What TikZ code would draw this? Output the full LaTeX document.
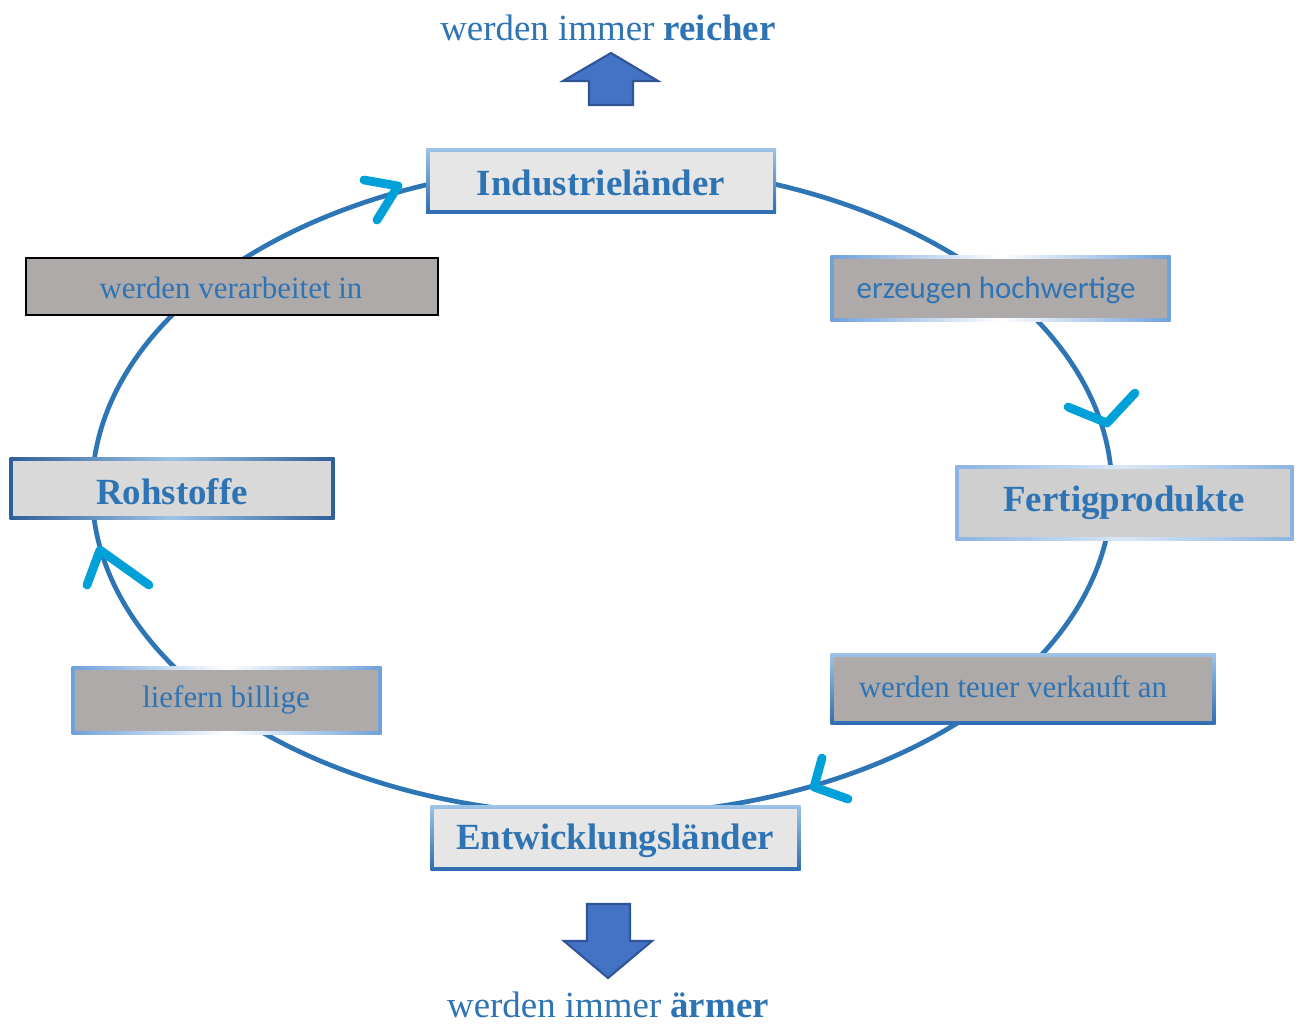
\documentclass[tikz,border=0pt]{standalone}
\usepackage{fontspec}
\setmainfont{Liberation Serif}
\newfontfamily\calfont{Carlito}
\definecolor{txtblue}{HTML}{2E74B5}
\definecolor{ringblue}{HTML}{2E75B6}
\definecolor{hookblue}{HTML}{00A1D9}
\definecolor{lightfr}{HTML}{9DC3E6}
\definecolor{midfr}{HTML}{6FA0DA}
\definecolor{darkfr}{HTML}{2E6DB0}
\definecolor{deepfr}{HTML}{2F5F9A}
\definecolor{boxlight}{HTML}{E7E6E6}
\definecolor{boxgrey}{HTML}{D9D9D9}
\definecolor{boxfert}{HTML}{CFCFCF}
\definecolor{labgrey}{HTML}{AEAAAA}
\definecolor{arrfill}{HTML}{4472C4}
\definecolor{arrdraw}{HTML}{2F5597}
% name, x, y, w, h, frame style, fill, border px
\newcommand{\mybox}[8]{%
  \node[minimum width={#4*0.02cm}, minimum height={#5*0.02cm}, inner sep=0pt, outer sep=0pt, #6] (#1) at (#2,#3) {};
  \node[fill=#7, minimum width={(#4-2*#8)*0.02cm}, minimum height={(#5-2*#8)*0.02cm}, inner sep=0pt, outer sep=0pt] (#1-in) at (#1) {};
}
\begin{document}
\begin{tikzpicture}[x=0.02cm,y=-0.02cm,
  ring/.style={draw=ringblue, line width=2.7pt},
  frvert/.style={top color=lightfr, bottom color=darkfr},
  frhoriz/.style={shading=axis, left color=midfr, right color=midfr, middle color=white, shading angle=90},
  frdeep/.style={shading=axis, left color=deepfr, right color=deepfr, middle color=lightfr, shading angle=90},
  frlight/.style={shading=axis, left color=midfr!80!white, right color=midfr!80!white, middle color=lightfr!40!white, shading angle=90},
  frblack/.style={fill=black},
  title/.style={text=txtblue, font=\fontsize{21}{25}\selectfont\bfseries, inner sep=0pt},
  label/.style={text=txtblue, font=\fontsize{17.6}{21}\selectfont, inner sep=0pt},
  hook/.style={draw=hookblue, line width=5pt, line cap=round, line join=round},
  block/.style={fill=arrfill, draw=arrdraw, line width=1.2pt, line join=miter}
]
\useasboundingbox (0,0) rectangle (1301,1025);

% cycle ring
\draw[ring] (602,490) ellipse [x radius=10.2cm, y radius=6.5cm];

% main boxes
\mybox{ind}{601}{181}{350}{65}{frvert}{boxlight}{3.5}
\mybox{roh}{172}{488.5}{325}{62}{frdeep}{boxgrey}{3.5}
\mybox{fert}{1124.5}{503}{338}{75}{frlight}{boxfert}{3.5}
\mybox{entw}{615.5}{838}{370}{65}{frvert}{boxlight}{3.5}

% label boxes
\mybox{verarb}{231.5}{286}{414}{59}{frblack}{labgrey}{2}
\mybox{erz}{1000.5}{288.5}{340}{66}{frhoriz}{labgrey}{3.5}
\mybox{teuer}{1023}{689}{385}{71}{frvert}{labgrey}{3.5}
\mybox{lief}{226.5}{700.5}{310}{68}{frhoriz}{labgrey}{3.5}

% texts
\node[title] (t-ind) at (601,183) {Industrieländer};
\node[title] (t-roh) at (172,492) {Rohstoffe};
\node[title] (t-fert) at (1124,503) {Fertigprodukte};
\node[title] (t-entw) at (615,841) {Entwicklungsländer};
\node[label] (t-verarb) at (231,288) {werden verarbeitet in};
\node[label, font=\calfont\fontsize{17.6}{21}\selectfont] (t-erz) at (996,290) {erzeugen hochwertige};
\node[label] (t-teuer) at (1013,687) {werden teuer verkauft an};
\node[label] (t-lief) at (226,700) {liefern billige};

\node[text=txtblue, font=\fontsize{21}{25}\selectfont, inner sep=0pt] (t-reich) at (608,28) {werden immer \textbf{reicher}};
\node[text=txtblue, font=\fontsize{21}{25}\selectfont, inner sep=0pt] (t-arm) at (608,1005) {werden immer \textbf{ärmer}};

% block arrows
\draw[block] (611,53) -- (563,81) -- (589,81) -- (589,105) -- (633,105) -- (633,81) -- (658,81) -- cycle;
\draw[block] (587,904) -- (630,904) -- (630,941) -- (652,941) -- (608,978) -- (564,941) -- (587,941) -- cycle;

% hand-drawn arrow tips
\coordinate (h1a) at (364,180);
\coordinate (h1t) at (398,186);
\coordinate (h1b) at (377,220);
\draw[hook] (h1a) -- (h1t) -- (h1b);

\coordinate (h2a) at (1068,407);
\coordinate (h2t) at (1107,423);
\coordinate (h2b) at (1135,393);
\draw[hook] (h2a) -- (h2t) -- (h2b);

\coordinate (h3a) at (87,585);
\coordinate (h3t) at (100,550);
\coordinate (h3b) at (149,585);
\draw[hook] (h3a) -- (h3t) -- (h3b);

\coordinate (h4a) at (822,758);
\coordinate (h4t) at (814,787);
\coordinate (h4b) at (848,799);
\draw[hook] (h4a) -- (h4t) -- (h4b);
\end{tikzpicture}
\end{document}
